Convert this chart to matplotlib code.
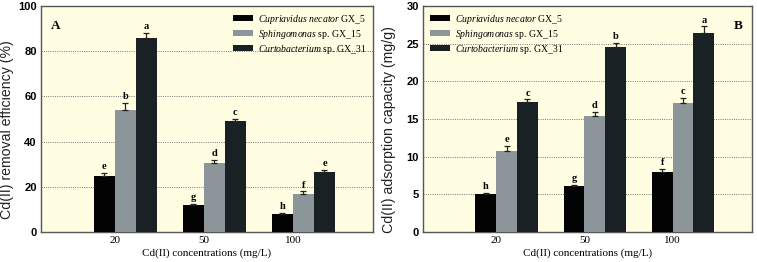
import matplotlib.pyplot as plt
import numpy as np

conc = ["20", "50", "100"]
strains = ["Cupriavidus necator", "Sphingomonas", "Curtobacterium"]
suffix = [" GX_5", " sp. GX_15", " sp. GX_31"]

# panel A: removal efficiency (%)
eff = [[25, 12, 8], [54, 30.5, 17], [86, 49, 26.5]]
eff_err = [[1.0, 0.6, 0.6], [3.0, 1.3, 1.0], [2.0, 1.2, 1.0]]
eff_lab = [["e", "g", "h"], ["b", "d", "f"], ["a", "c", "e"]]

# panel B: adsorption capacity (mg/g)
cap = [[5.0, 6.1, 7.9], [10.8, 15.4, 17.1], [17.2, 24.5, 26.4]]
cap_err = [[0.2, 0.2, 0.5], [0.6, 0.5, 0.7], [0.4, 0.6, 0.9]]
cap_lab = [["h", "g", "f"], ["e", "d", "c"], ["c", "b", "a"]]

colors = ["#030303", "#8b959a", "#1a2125"]
bg = "#fffee2"

plt.rcParams["mathtext.fontset"] = "custom"
plt.rcParams["mathtext.it"] = "Liberation Serif:italic"
plt.rcParams["mathtext.rm"] = "Liberation Serif"

fig = plt.figure(figsize=(7.57, 2.62), dpi=100)
axA = fig.add_axes([0.0542, 0.1145, 0.4386, 0.8626])
axB = fig.add_axes([0.5588, 0.1145, 0.4346, 0.8626])

x = np.arange(1, 4)
w = 0.236
offsets = [-0.5 * w, 0.5 * w, 1.5 * w]


def panel(ax, vals, errs, labs, ylim, step, ylabel, tag, legloc):
    ax.set_facecolor(bg)
    for i in range(3):
        xs = x + offsets[i]
        ax.bar(xs, vals[i], w, color=colors[i], zorder=3,
               label=strains[i] + suffix[i])
        ax.errorbar(xs, vals[i], yerr=[np.zeros(3), errs[i]], fmt="none",
                    ecolor="#222222", elinewidth=0.9, capsize=2.5,
                    capthick=0.9, zorder=4)
        for xx, v, e, t in zip(xs, vals[i], errs[i], labs[i]):
            ax.text(xx, v + e + ylim * 0.008, t, ha="center", va="bottom",
                    family="Liberation Serif", fontweight="bold", fontsize=7.5)
    ax.set_xlim(0.17, 3.9)
    ax.set_ylim(0, ylim)
    ax.set_yticks(np.arange(0, ylim + 0.1, step))
    ax.set_xticks(x)
    ax.set_xticklabels(conc, family="Liberation Serif", fontsize=8)
    ax.tick_params(axis="both", length=0, pad=3)
    for t in ax.get_yticklabels():
        t.set_fontweight("bold")
        t.set_fontsize(8)
        t.set_family("Liberation Sans")
    ax.yaxis.grid(True, linestyle=(0, (1.2, 1.5)), color="#666666",
                  linewidth=0.6, zorder=1)
    ax.set_axisbelow(True)
    for s in ax.spines.values():
        s.set_color("#555555")
        s.set_linewidth(1.0)
    ax.set_xlabel("Cd(II) concentrations (mg/L)", family="Liberation Serif",
                  fontsize=8, labelpad=2)
    ax.set_ylabel(ylabel, family="Liberation Sans", fontsize=10.2,
                  color="#222222")
    ax.yaxis.set_label_coords(-0.082, 0.453)
    handles, _ = ax.get_legend_handles_labels()
    texts = [r"$\it{Cupriavidus}$ $\it{necator}$ GX_5",
             r"$\it{Sphingomonas}$ sp. GX_15",
             r"$\it{Curtobacterium}$ sp. GX_31"]
    ax.legend(handles, texts, loc=legloc, frameon=False,
              prop={"family": "Liberation Serif", "size": 7},
              handlelength=2.1, handleheight=0.6, labelspacing=0.2,
              handletextpad=0.5, borderaxespad=0.3)
    tx = 0.03 if tag == "A" else 0.97
    ax.text(tx, 0.94, tag, transform=ax.transAxes,
            ha="left" if tag == "A" else "right", va="top",
            family="Liberation Serif", fontweight="bold", fontsize=9.5)


panel(axA, eff, eff_err, eff_lab, 100, 20, "Cd(II) removal efficiency (%)", "A", "upper right")
panel(axB, cap, cap_err, cap_lab, 30, 5, "Cd(II) adsorption capacity (mg/g)", "B", "upper left")

fig.savefig("out.png", dpi=100, facecolor="white")
